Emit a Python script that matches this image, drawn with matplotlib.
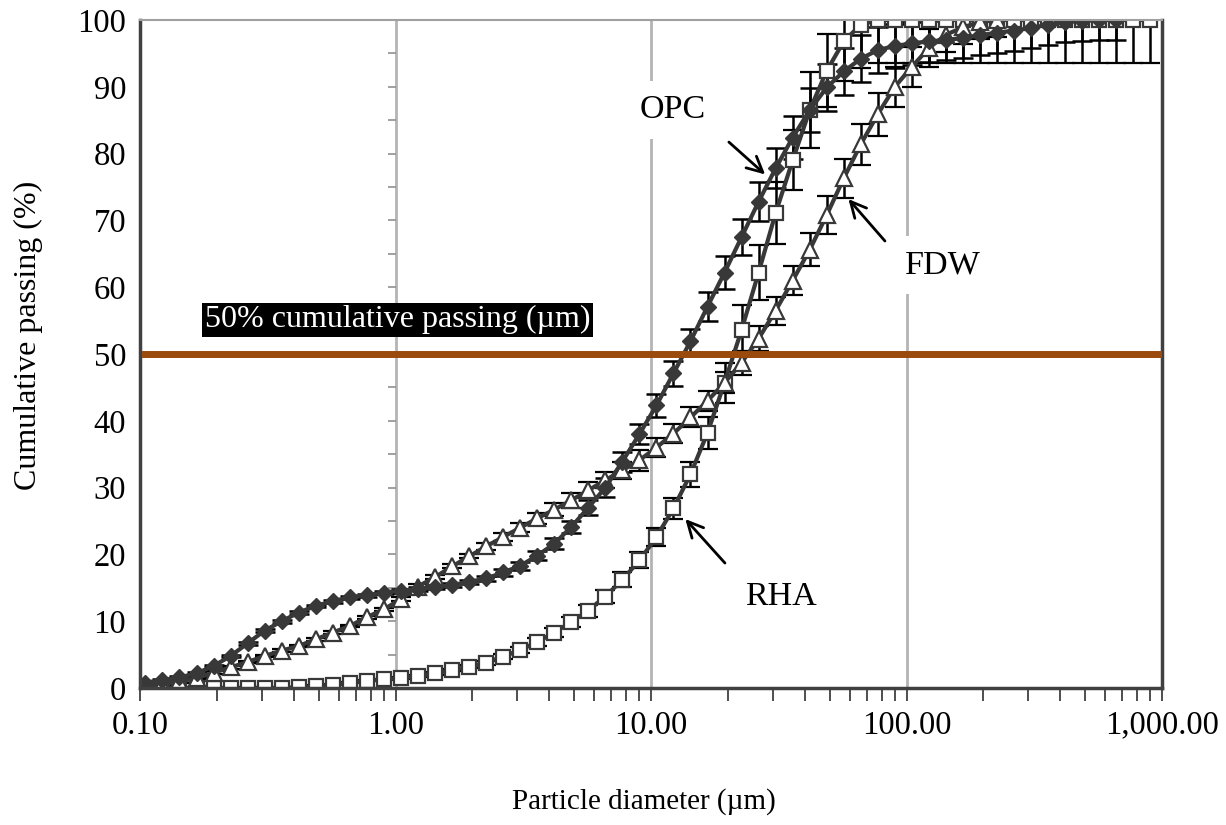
import matplotlib
matplotlib.use("Agg")
import matplotlib.pyplot as plt
from matplotlib.ticker import FuncFormatter, LogLocator, NullFormatter

plt.rcParams['font.family'] = ['Liberation Serif', 'DejaVu Serif']

# particle size classes (um)
sizes = [0.105, 0.1224, 0.1427, 0.1664, 0.1940, 0.2262, 0.2637, 0.3075, 0.3585, 0.4180,
         0.4873, 0.5681, 0.6624, 0.7723, 0.9004, 1.050, 1.224, 1.427, 1.664, 1.940,
         2.262, 2.637, 3.075, 3.585, 4.180, 4.873, 5.681, 6.624, 7.723, 9.004,
         10.50, 12.24, 14.27, 16.64, 19.40, 22.62, 26.37, 30.75, 35.85, 41.80,
         48.73, 56.81, 66.24, 77.23, 90.04, 105.0, 122.4, 142.7, 166.4, 194.0,
         226.2, 263.7, 307.5, 358.5, 418.0, 487.3, 568.1, 662.4, 772.3, 900.4]

opc = [0.8, 1.2, 1.6, 2.2, 3.3, 4.8, 6.7, 8.6, 10.0, 11.3,
       12.3, 13.0, 13.6, 13.9, 14.3, 14.6, 14.8, 15.1, 15.4, 15.9,
       16.4, 17.3, 18.3, 19.8, 21.6, 24.1, 27.0, 30.0, 33.9, 38.0,
       42.3, 47.1, 51.9, 57.1, 62.2, 67.5, 72.8, 77.8, 82.4, 86.5,
       89.9, 92.3, 94.2, 95.5, 96.1, 96.5, 96.8, 97.0, 97.3, 97.7,
       98.1, 98.4, 98.8, 99.3, 99.7, 99.9, 100.0, 100.0]
opc_err = [0.2] * 15 + [0.3] * 5 + [0.4, 0.5, 0.6, 0.7, 0.8, 0.9, 1.1, 1.4, 1.5, 1.5,
           1.7, 1.9, 1.8, 2.2, 2.5, 2.7, 2.9, 3.0, 3.2, 3.3,
           3.5, 3.5, 3.5, 3.4, 3.3, 3.2, 3.1, 3.0, 3.0, 3.0,
           3.0, 3.0, 3.0, 3.0, 3.0, 3.0, 3.0, 3.0]

fdw = [0.3, 0.6, 1.0, 1.5, 2.3, 3.1, 3.9, 4.8, 5.6, 6.3,
       7.3, 8.3, 9.3, 10.6, 11.8, 13.3, 15.2, 16.6, 18.2, 19.7,
       21.2, 22.6, 24.0, 25.4, 26.7, 28.1, 29.6, 31.1, 32.6, 34.1,
       36.0, 38.1, 40.5, 43.0, 45.7, 48.7, 52.3, 56.5, 61.0, 65.6,
       70.8, 76.3, 81.4, 85.9, 90.0, 93.0, 95.8, 97.8, 98.9, 99.7,
       100.0]
fdw_err = [0.2] * 15 + [0.3] * 5 + [0.5, 0.6, 0.7, 0.8, 1.0, 1.1, 1.2, 1.2, 1.3, 1.6,
           1.4, 1.4, 1.5, 1.5, 1.6, 1.8, 1.9, 2.1, 2.2, 2.5,
           2.8, 2.9, 3.1, 3.2, 3.0, 3.0, 2.8, 2.6, 2.5, 2.5,
           2.5]

rha = [0.0] * 9 + [0.1, 0.3, 0.5, 0.8, 1.1, 1.3, 1.5, 1.8, 2.2, 2.7,
       3.2, 3.8, 4.7, 5.7, 6.9, 8.3, 9.9, 11.6, 13.7, 16.2,
       19.1, 22.6, 26.9, 32.0, 38.2, 45.7, 53.6, 62.2, 71.1, 79.0,
       86.5, 92.4, 96.8, 99.3] + [100.0] * 17
rha_err = [0.1] * 15 + [0.2] * 5 + [0.3, 0.4, 0.5, 0.6, 0.7, 0.8, 0.9, 1.0, 1.1, 1.2,
           1.4, 1.6, 1.9, 2.4, 3.0, 3.7, 4.1, 4.6, 4.5, 5.7,
           5.5, 6.0, 6.5] + [6.4] * 17

d50_level = 50
yaxis_ticks = [5, 10, 15, 20, 25, 30, 35, 40, 45, 50, 55, 60, 65, 70, 75, 80, 85, 90, 95]

fig = plt.figure(figsize=(12.26, 8.25), dpi=100)
ax = fig.add_axes([0.1142, 0.166, 0.8336, 0.8098])

line_col = "#383838"
eb_kw = dict(ecolor="black", elinewidth=1.8, capsize=7, capthick=1.8,
             color=line_col, lw=3)

ax.errorbar(sizes[:len(rha)], rha, yerr=rha_err, marker="s", ms=10,
            mfc="white", mec=line_col, mew=1.6, **eb_kw)
ax.errorbar(sizes[:len(fdw)], fdw, yerr=fdw_err, marker="^", ms=12,
            mfc="white", mec=line_col, mew=1.6, **eb_kw)
ax.errorbar(sizes[:len(opc)], opc, yerr=opc_err, marker="D", ms=8.5,
            mfc=line_col, mec=line_col, **eb_kw)

ax.plot([sizes[0], 1000], [d50_level, d50_level], color="#9a4a0c", lw=5, zorder=6)

# tick marks of the vertical axis crossing at 1
ax.plot([1.0] * len(yaxis_ticks), yaxis_ticks, ls="none", marker=0, ms=6,
        mew=1.2, color="#909090", zorder=1)

ax.set_xscale("log")
ax.set_xlim(0.1, 1000)
ax.set_ylim(0, 100)
ax.set_yticks(range(0, 101, 10))
ax.xaxis.set_major_locator(LogLocator(base=10))
ax.xaxis.set_minor_locator(LogLocator(base=10, subs=range(2, 10)))
ax.xaxis.set_minor_formatter(NullFormatter())
ax.xaxis.set_major_formatter(FuncFormatter(lambda v, p: f"{v:,.2f}"))

ax.tick_params(axis="x", which="both", direction="out", length=9, width=1.3,
               color="#404040", labelsize=23.5, pad=7)
ax.tick_params(axis="y", length=0, labelsize=23.5, pad=10)

ax.grid(axis="x", which="major", color="#b4b4b4", lw=2)
ax.set_axisbelow(True)

for side in ["left", "bottom", "right"]:
    ax.spines[side].set_color("#404040")
    ax.spines[side].set_linewidth(2.5)
ax.spines["top"].set_color("#a0a0a0")
ax.spines["top"].set_linewidth(1.5)

ax.set_xlabel("Particle diameter (\u00b5m)", fontsize=21)
ax.set_ylabel("Cumulative passing (%)", fontsize=23)
ax.xaxis.set_label_coords(0.493, -0.150)
ax.yaxis.set_label_coords(-0.095, 0.528)

ax.text(1.018, 55.1, "50% cumulative passing (\u00b5m)", fontsize=23, color="white",
        ha="center", va="center", zorder=7,
        bbox=dict(facecolor="black", edgecolor="none", pad=2))

box = dict(facecolor="white", edgecolor="none", pad=10)
ax.text(12.2, 86.5, "OPC", fontsize=24.5, ha="center", va="center", bbox=box, zorder=3)
ax.text(139, 63.3, "FDW", fontsize=24.5, ha="center", va="center", bbox=box, zorder=3)
ax.text(32.3, 13.6, "RHA", fontsize=24.5, ha="center", va="center", bbox=box, zorder=3)

arrow = dict(arrowstyle="->", color="black", lw=2, mutation_scale=28)
ax.annotate("", xy=(28.5, 76.6), xytext=(19.8, 82.0), arrowprops=arrow, zorder=8)
ax.annotate("", xy=(58.3, 73.5), xytext=(83.7, 66.6), arrowprops=arrow, zorder=8)
ax.annotate("", xy=(13.4, 25.6), xytext=(19.8, 18.4), arrowprops=arrow, zorder=8)

fig.savefig("out.png", dpi=100)
